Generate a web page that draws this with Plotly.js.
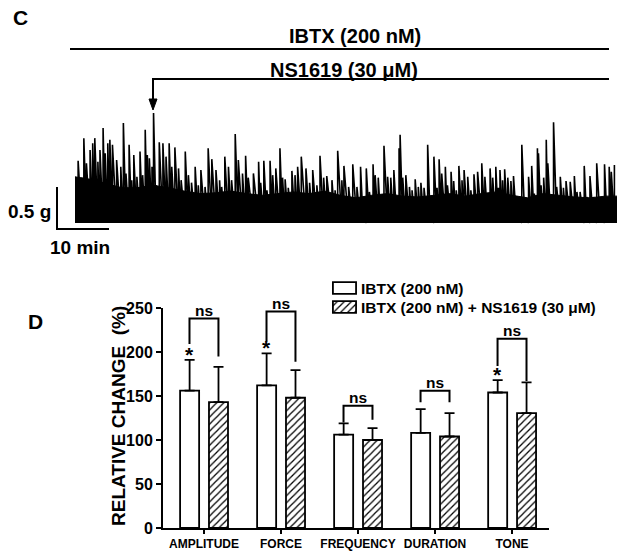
<!DOCTYPE html>
<html>
<head>
<meta charset="utf-8">
<script src="https://cdn.plot.ly/plotly-3.0.1.min.js"></script>
<style>
  html, body { margin: 0; padding: 0; background: #fff; }
  #chart { width: 624px; height: 552px; }
</style>
</head>
<body>
<div id="chart"></div>
<script>
"use strict";

// Panel C: contraction trace (time in min, force in g above baseline)
var spikeTimes = [
  0.0, 0.6, 1.3, 1.7, 2.2, 2.9, 3.4, 3.8, 4.4, 4.8, 5.4, 5.8, 6.3, 6.7, 7.2, 8.0, 8.8, 9.3, 9.8, 10.4,
  10.9, 11.3, 11.9, 12.5, 13.0, 13.5, 13.9, 14.3, 14.8, 15.1, 15.6, 16.2, 16.9, 17.5, 18.1, 18.6, 19.2, 19.9, 20.4, 21.2,
  21.8, 22.4, 23.1, 23.7, 24.2, 25.0, 25.6,
  26.3, 27.1, 27.8, 28.2, 28.8, 29.5, 30.1, 30.8, 31.4, 32.2, 32.8, 33.3, 34.3, 35.3, 35.7, 36.3, 36.9, 37.5, 38.0, 38.6,
  39.4, 39.9, 40.4, 41.0, 41.7, 42.3, 42.8, 43.5, 44.4, 45.1, 45.7, 46.5, 47.1, 47.8, 48.4, 49.4, 50.0, 50.5, 51.3,
  51.7, 52.6, 53.4, 54.2, 54.9, 55.4, 56.0, 56.6, 57.3, 57.7, 58.3, 58.8, 59.4, 60.1, 60.7, 61.3, 61.9, 62.3, 62.5, 63.0,
  63.6, 64.3, 64.8, 65.4, 66.0, 66.5, 67.1, 67.8, 68.3, 69.0, 69.6, 70.0, 70.5, 71.2, 71.6, 72.3, 72.8, 73.3, 73.8, 74.4,
  74.8, 75.5, 76.1, 76.7, 77.4,
  78.2, 78.8, 79.4, 79.8, 80.3, 80.9, 81.4, 81.7, 82.2, 82.6, 83.2, 83.8, 84.3, 84.9, 85.4, 85.9, 86.5, 87.2, 87.8, 88.3,
  88.9, 89.1, 89.6, 90.1, 90.6, 90.9, 91.5, 92.0, 92.6, 93.3, 93.9, 94.4, 95.2, 96.0, 96.5, 97.1, 97.9, 98.4, 99.0, 99.7,
  100.3, 101.0, 101.8, 102.3, 102.7, 103.1, 103.7
];
var spikeHeights = [
  0.52, 0.74, 0.54, 1.01, 0.71, 0.87, 0.95, 1.01, 0.73, 0.87, 1.13, 0.83, 0.95, 0.99, 0.93, 0.75, 0.67, 1.19, 0.59, 0.93,
  0.51, 0.81, 0.55, 0.85, 0.57, 1.11, 0.81, 0.77, 0.67, 1.31, 0.45, 0.96, 0.95, 0.79, 0.95, 0.67, 0.90, 0.65, 0.51, 0.85,
  0.57, 0.48, 0.67, 0.45, 0.63, 0.43, 0.89,
  0.76, 0.63, 0.51, 0.43, 0.79, 0.67, 0.51, 1.06, 0.75, 0.59, 0.80, 0.54, 0.59, 0.73, 0.48, 0.74, 0.39, 0.74, 0.57, 0.65,
  0.89, 0.54, 0.52, 0.42, 0.62, 0.57, 0.67, 0.79, 0.65, 0.48, 0.63, 0.45, 0.80, 0.54, 0.56, 0.51, 0.39, 0.86, 0.51,
  0.68, 0.43, 0.70, 0.43, 0.67, 0.31, 0.65, 0.37, 0.70, 0.57, 0.54, 0.33, 0.92, 0.55, 0.54, 0.63, 0.30, 0.89, 1.05, 0.54,
  0.57, 0.43, 0.39, 0.52, 0.43, 0.48, 0.42, 0.93, 0.31, 0.79, 0.42, 0.76, 0.59, 0.67, 0.45, 0.61, 0.50, 0.39, 0.68, 0.51,
  0.63, 0.55, 0.39, 0.58, 0.61,
  0.71, 0.55, 0.33, 0.65, 0.54, 0.67, 0.42, 0.63, 0.51, 0.64, 0.54, 0.50, 0.56, 0.32, 0.25, 0.93, 0.30, 0.55, 0.68, 0.35,
  0.89, 0.83, 0.45, 0.54, 0.99, 0.71, 0.30, 1.20, 0.43, 0.55, 0.42, 0.50, 0.49, 0.56, 0.37, 0.37, 0.68, 0.31, 0.56, 0.31,
  0.71, 0.30, 0.70, 0.31, 0.67, 0.61, 0.69
];
// top of the dense band of small contractions
var bandTimes = [0, 3, 6, 9, 12, 15, 18, 21, 24, 27, 30, 33, 36, 39, 42, 45, 48, 51, 54, 57,
  60, 63, 66, 69, 72, 75, 78, 81, 84, 87, 90, 93, 96, 99, 102, 104.2];
var bandTops = [0.55, 0.52, 0.47, 0.42, 0.42, 0.45, 0.42, 0.38, 0.35, 0.36, 0.38, 0.35, 0.33, 0.35, 0.37, 0.35, 0.38, 0.33, 0.30, 0.33,
  0.35, 0.32, 0.31, 0.33, 0.35, 0.32, 0.35, 0.37, 0.33, 0.30, 0.35, 0.33, 0.31, 0.30, 0.32, 0.32];

// Panel D: relative change (%)
var categories = ['AMPLITUDE', 'FORCE', 'FREQUENCY', 'DURATION', 'TONE'];
var ibtxMean = [156, 162, 106, 108, 154];
var ibtxErr = [35, 36.5, 13, 27, 14];
var ns1619Mean = [143, 148, 100, 104, 130.5];
var ns1619Err = [40, 31.5, 13.5, 26.5, 35];
var bracketTop = [238, 246, 139, 156, 215];
var bracketLeftEnd = [209, 212, 120, 143, 184];
var bracketRightEnd = [195, 189, 123, 143, 167];
var significant = [true, true, false, false, true];
var legendLabels = ['IBTX (200 nM)', 'IBTX (200 nM) + NS1619 (30 \u03bcM)'];

var W = 624, H = 552;
function px(x) { return x / W; }
function py(y) { return 1 - y / H; }

var BOLD = {family: 'Arial, "Liberation Sans", sans-serif', color: 'black', weight: 'bold'};
function bold(size) { return Object.assign({}, BOLD, {size: size}); }

// sawtooth: rise at each contraction, fall back towards the next one
var spikeX = [], spikeY = [];
spikeTimes.forEach(function(t, i) {
  spikeX.push(t, t);
  spikeY.push(0, spikeHeights[i]);
});

var band = {
  x: bandTimes, y: bandTops, xaxis: 'x', yaxis: 'y',
  type: 'scatter', mode: 'lines', fill: 'tozeroy',
  fillcolor: 'black', line: {color: 'black', width: 1}, hoverinfo: 'skip'
};
var spikes = {
  x: spikeX, y: spikeY, xaxis: 'x', yaxis: 'y',
  type: 'scatter', mode: 'lines', line: {color: 'black', width: 1.6}, hoverinfo: 'skip'
};

var zeros = categories.map(function() { return 0; });
var BAR_W = 0.247;
var HATCH = {shape: '/', fgcolor: 'black', bgcolor: 'white', size: 5, solidity: 0.25};
var OUTLINE = {color: 'black', width: 1.8};
var ibtxBars = {
  x: categories, y: ibtxMean, xaxis: 'x2', yaxis: 'y2', type: 'bar',
  width: BAR_W, offset: -0.31,
  marker: {color: 'white', line: OUTLINE},
  error_y: {type: 'data', symmetric: false, array: ibtxErr, arrayminus: zeros,
            color: 'black', thickness: 1.8, width: 5}
};
var nsBars = {
  x: categories, y: ns1619Mean, xaxis: 'x2', yaxis: 'y2', type: 'bar',
  width: BAR_W, offset: 0.065,
  marker: {color: 'white', line: OUTLINE, pattern: HATCH},
  error_y: {type: 'data', symmetric: false, array: ns1619Err, arrayminus: zeros,
            color: 'black', thickness: 1.8, width: 5}
};
// legend swatches
var swatchPlain = {
  x: [1], y: [0], base: [0], orientation: 'h', type: 'bar', width: 0.62,
  xaxis: 'x3', yaxis: 'y3',
  marker: {color: 'white', line: OUTLINE}, hoverinfo: 'skip'
};
var swatchHatch = {
  x: [1], y: [1], base: [0], orientation: 'h', type: 'bar', width: 0.62,
  xaxis: 'x3', yaxis: 'y3',
  marker: {color: 'white', line: OUTLINE, pattern: HATCH},
  hoverinfo: 'skip'
};

var shapes = [
  // IBTX bar
  {type: 'line', xref: 'paper', yref: 'paper', x0: px(70), x1: px(609), y0: py(49), y1: py(49),
   line: {color: 'black', width: 2}},
  // NS1619 bar with arrow down to the trace
  {type: 'path', xref: 'paper', yref: 'paper',
   path: 'M' + px(609) + ',' + py(79) + ' L' + px(153) + ',' + py(79) + ' L' + px(153) + ',' + py(100),
   line: {color: 'black', width: 2}},
  {type: 'path', xref: 'paper', yref: 'paper',
   path: 'M' + px(149) + ',' + py(99) + ' L' + px(157) + ',' + py(99) + ' L' + px(153) + ',' + py(110) + ' Z',
   fillcolor: 'black', line: {color: 'black', width: 1}},
  // scale bar
  {type: 'path', xref: 'paper', yref: 'paper',
   path: 'M' + px(57) + ',' + py(187) + ' L' + px(57) + ',' + py(229) + ' L' + px(109) + ',' + py(229),
   line: {color: 'black', width: 2}}
];

var BX = 0.188;
categories.forEach(function(c, i) {
  shapes.push({
    type: 'path', xref: 'x2', yref: 'y2',
    path: 'M' + (i - BX) + ',' + bracketLeftEnd[i] + ' L' + (i - BX) + ',' + bracketTop[i] +
          ' L' + (i + BX) + ',' + bracketTop[i] + ' L' + (i + BX) + ',' + bracketRightEnd[i],
    line: {color: 'black', width: 2}
  });
});

var annotations = [
  {text: 'C', x: px(20), y: py(17), font: bold(21)},
  {text: 'IBTX (200 nM)', x: px(355), y: py(36), font: bold(20)},
  {text: 'NS1619 (30 \u03bcM)', x: px(344), y: py(70), font: bold(20)},
  {text: '0.5 g', x: px(29), y: py(212), font: bold(19)},
  {text: '10 min', x: px(80), y: py(247), font: bold(19)},
  {text: 'D', x: px(35), y: py(321), font: bold(21)},
  {text: 'RELATIVE CHANGE\u00a0\u00a0(%)', x: px(118), y: py(416), textangle: -90, font: bold(19)},
  {text: legendLabels[0], x: px(359), y: py(288), xanchor: 'left', font: bold(15.5)},
  {text: legendLabels[1], x: px(359), y: py(307), xanchor: 'left', font: bold(15.5)}
];
annotations.forEach(function(a) {
  a.xref = 'paper'; a.yref = 'paper'; a.showarrow = false;
  if (!a.xanchor) a.xanchor = 'center';
  a.yanchor = 'middle';
});
categories.forEach(function(c, i) {
  annotations.push({text: 'ns', xref: 'x2', yref: 'y2', x: i, y: bracketTop[i],
    xanchor: 'center', yanchor: 'bottom', yshift: -2, showarrow: false, font: bold(15.5)});
  if (significant[i]) {
    annotations.push({text: '*', xref: 'x2', yref: 'y2', x: i - BX, y: ibtxMean[i] + ibtxErr[i],
      xanchor: 'center', yanchor: 'bottom', yshift: -8, showarrow: false, font: bold(21)});
  }
});

var layout = {
  width: W, height: H,
  margin: {l: 0, r: 0, t: 0, b: 0},
  paper_bgcolor: 'white', plot_bgcolor: 'rgba(0,0,0,0)',
  showlegend: false,
  font: bold(12),
  xaxis: {domain: [px(75), px(617)], range: [0, 104.2], visible: false, fixedrange: true},
  yaxis: {domain: [py(230), py(100)], range: [-0.083, 1.464], visible: false, fixedrange: true},
  xaxis2: {
    anchor: 'y2', domain: [px(163), px(549)], type: 'category', range: [-0.532, 4.48],
    showline: true, linecolor: 'black', linewidth: 2, showgrid: false, zeroline: false,
    ticks: 'outside', ticklen: 4, tickwidth: 1.5, tickcolor: 'black', tickfont: bold(12), fixedrange: true
  },
  yaxis2: {
    anchor: 'x2', domain: [py(528), py(308)], range: [0, 250],
    tickvals: [0, 50, 100, 150, 200, 250],
    showline: true, linecolor: 'black', linewidth: 2, showgrid: false, zeroline: false,
    ticks: 'outside', ticklen: 5, tickwidth: 2, tickcolor: 'black', tickfont: bold(16), fixedrange: true
  },
  xaxis3: {anchor: 'y3', domain: [px(332), px(357)], range: [-0.04, 1.04], visible: false, fixedrange: true},
  yaxis3: {anchor: 'x3', domain: [py(316.5), py(278.5)], range: [1.5, -0.5], visible: false, fixedrange: true},
  shapes: shapes,
  annotations: annotations
};

Plotly.newPlot('chart', [band, spikes, ibtxBars, nsBars, swatchPlain, swatchHatch], layout,
  {staticPlot: true, displayModeBar: false});
</script>
</body>
</html>
